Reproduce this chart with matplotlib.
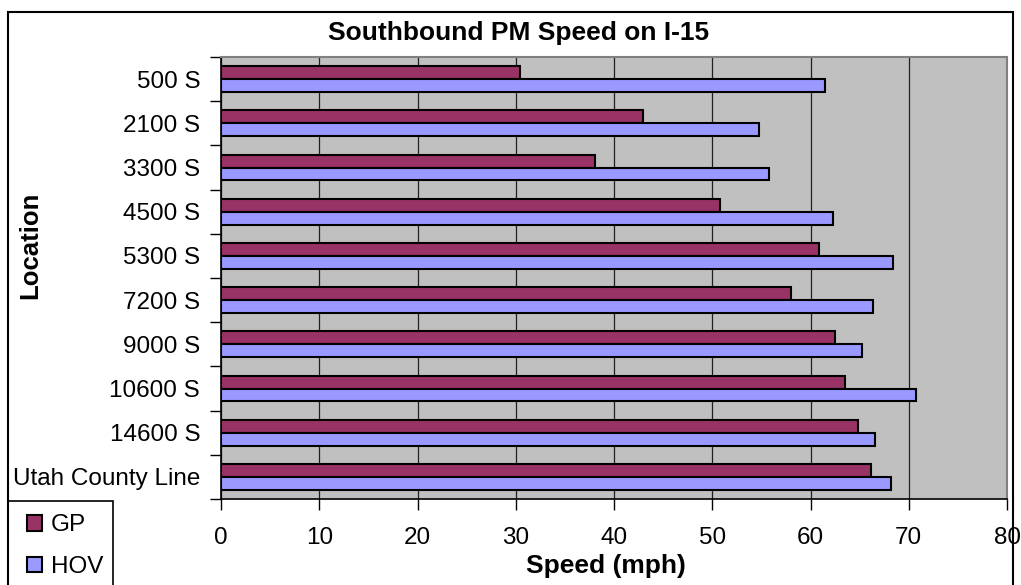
import numpy as np
import matplotlib.pyplot as plt
from matplotlib.patches import Rectangle

locations = ['500 S', '2100 S', '3300 S', '4500 S', '5300 S', '7200 S',
             '9000 S', '10600 S', '14600 S', 'Utah County Line']
gp_speed = [30.4, 43.0, 38.1, 50.8, 60.9, 58.0, 62.5, 63.5, 64.8, 66.2]
hov_speed = [61.5, 54.8, 55.8, 62.3, 68.4, 66.4, 65.2, 70.7, 66.6, 68.2]
speed_ticks = [0, 10, 20, 30, 40, 50, 60, 70, 80]

W, H = 1021, 585
plt.rcParams['font.family'] = ['Liberation Sans', 'DejaVu Sans']

fig = plt.figure(figsize=(W / 100, H / 100), dpi=100)

# outer chart border
fig.patches.append(Rectangle((8 / W, -0.05), (1013 - 8) / W, 1.05 - 12 / H,
                             transform=fig.transFigure, fill=False,
                             edgecolor='black', linewidth=1.5))

ax = fig.add_axes([221 / W, 1 - 499 / H, (1007 - 221) / W, (499 - 57) / H])
ax.set_facecolor('#C0C0C0')

pos = np.arange(len(locations)) + 0.5
bar_h = 0.29
gp = ax.barh(pos - bar_h / 2, gp_speed, height=bar_h, color='#993366',
             edgecolor='black', linewidth=1.5, label='GP')
hov = ax.barh(pos + bar_h / 2, hov_speed, height=bar_h, color='#9999FF',
              edgecolor='black', linewidth=1.5, label='HOV')

ax.set_xlim(0, 80)
ax.set_ylim(len(locations), 0)
ax.set_axisbelow(True)
ax.grid(axis='x', color='#202020', linewidth=0.9)

ax.set_xticks(speed_ticks)
ax.tick_params(axis='x', length=8, width=1, labelsize=17.5, pad=12)
ax.set_yticks(np.arange(len(locations) + 1))
ax.set_yticklabels([])
ax.tick_params(axis='y', which='major', length=8, width=1)
ax.set_yticks(pos, minor=True)
ax.set_yticklabels(locations, minor=True)
ax.tick_params(axis='y', which='minor', length=0, labelsize=17.5, pad=15)

for side in ['top', 'right']:
    ax.spines[side].set_color('#808080')
    ax.spines[side].set_linewidth(1.5)
for side in ['left', 'bottom']:
    ax.spines[side].set_color('black')
    ax.spines[side].set_linewidth(1.2)

fig.text(519 / W, 1 - 33 / H, 'Southbound PM Speed on I-15', ha='center',
         va='center', fontsize=19, fontweight='bold')
fig.text(606 / W, 1 - 566 / H, 'Speed (mph)', ha='center', va='center',
         fontsize=19, fontweight='bold')
fig.text(30 / W, 1 - 245 / H, 'Location', ha='center', va='center',
         rotation=90, fontsize=18.5, fontweight='bold')

# legend box
fig.patches.append(Rectangle((8 / W, -0.05), (113 - 8) / W, 0.05 + 1 - 501 / H,
                             transform=fig.transFigure, fill=False,
                             edgecolor='black', linewidth=1.2))
fig.legend(handles=[gp, hov], loc='upper left',
           bbox_to_anchor=(8 / W, 1 - 495 / H), frameon=False, fontsize=17.5,
           handlelength=0.6, handleheight=0.6, handletextpad=0.35,
           labelspacing=0.8, borderpad=0.3)

fig.savefig('out.png', dpi=100)
